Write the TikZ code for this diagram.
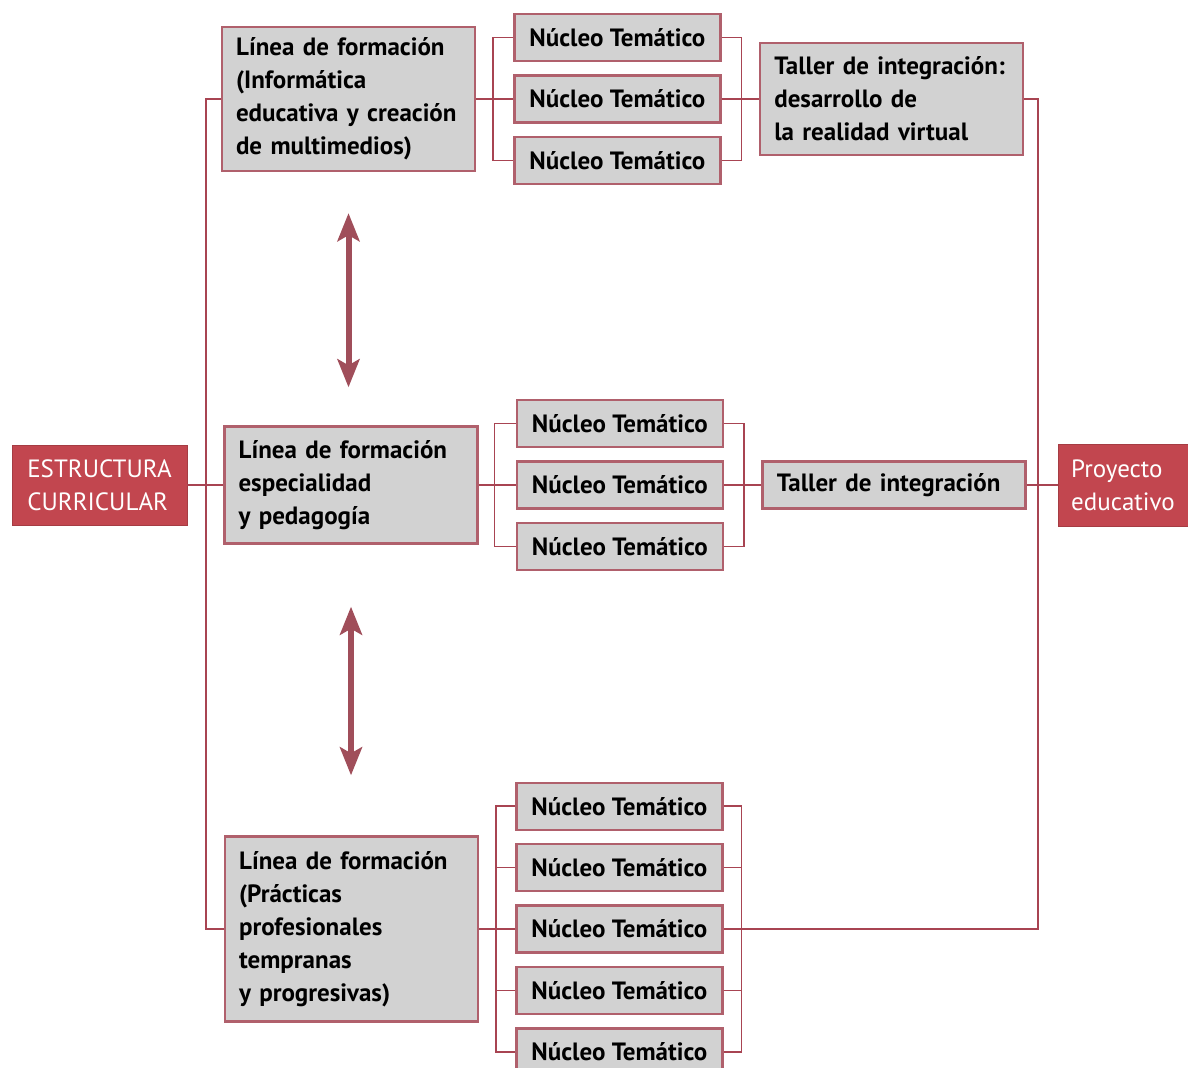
\documentclass[tikz,border=0pt]{standalone}
\usepackage{fontspec}
\setmainfont{PT Sans}
\usetikzlibrary{%
  positioning,
  calc,
  arrows.meta,
}

\definecolor{tituloRed}{HTML}{C2464F}
\definecolor{lineaRed}{HTML}{A84452}
\definecolor{bordeRed}{HTML}{B0606C}
\definecolor{flechaRed}{HTML}{A04E5A}
\definecolor{cajaGray}{HTML}{D2D2D2}

\begin{document}
\begin{tikzpicture}[%
           x=0.5pt, y=-0.5pt,
           node distance=6pt and 18.5pt,
           font=\fontsize{12.5}{16.5}\selectfont\bfseries,
           caja/.style={
             % The shape:
             rectangle,
             % The border:
             draw=bordeRed,
             line width=1.2pt,
             % The filling:
             fill=cajaGray,
             inner xsep=7pt,
             align=left,
           },
           linea/.style={
             caja,
             text width=112.5pt,
             minimum width=126.5pt,
           },
           nucleo/.style={
             caja,
             minimum width=103pt,
             minimum height=23.5pt,
             align=center,
           },
           taller/.style={
             caja,
             text width=117pt,
             minimum width=131.5pt,
           },
           extremo/.style={
             rectangle,
             fill=tituloRed,
             draw=tituloRed!85!black,
             text=white,
             font=\fontsize{12.5}{16.5}\selectfont,
             align=left,
           },
           link/.style={
             line width=0.75pt,
             color=lineaRed,
           },
           vaiven/.style={
             {Stealth[width=11pt,length=14pt,inset=3pt]}-{Stealth[width=11pt,length=14pt,inset=3pt]},
             line width=3pt,
             color=flechaRed,
           }]
         \useasboundingbox (0,0) rectangle (1188,1068);

         % extremos
         \node[extremo, minimum width=87.5pt, minimum height=40pt] (estructura) at (99.5,485) {ESTRUCTURA\\CURRICULAR};
         \node[extremo, minimum width=65pt, minimum height=41pt] (proyecto) at (1123,485) {Proyecto\\educativo};

         % lineas de formacion
         \node[linea, minimum height=72pt] (linea1) at (348.5,99) {L\'inea de formaci\'on\\(Inform\'atica\\educativa y creaci\'on\\de multimedios)};
         \node[linea, minimum height=58.5pt] (linea2) at (351,485) {L\'inea de formaci\'on\\especialidad\\y pedagog\'ia};
         \node[linea, minimum height=92.5pt] (linea3) at (351.5,929) {L\'inea de formaci\'on\\(Pr\'acticas\\profesionales\\tempranas\\y progresivas)};

         % nucleos
         \node[nucleo] (nucleo12) [right=of linea1] {N\'ucleo Tem\'atico};
         \node[nucleo] (nucleo11) [above=of nucleo12] {N\'ucleo Tem\'atico};
         \node[nucleo] (nucleo13) [below=of nucleo12] {N\'ucleo Tem\'atico};

         \node[nucleo] (nucleo22) [right=of linea2] {N\'ucleo Tem\'atico};
         \node[nucleo] (nucleo21) [above=of nucleo22] {N\'ucleo Tem\'atico};
         \node[nucleo] (nucleo23) [below=of nucleo22] {N\'ucleo Tem\'atico};

         \node[nucleo] (nucleo33) [right=18pt of linea3] {N\'ucleo Tem\'atico};
         \node[nucleo] (nucleo32) [above=of nucleo33] {N\'ucleo Tem\'atico};
         \node[nucleo] (nucleo31) [above=of nucleo32] {N\'ucleo Tem\'atico};
         \node[nucleo] (nucleo34) [below=of nucleo33] {N\'ucleo Tem\'atico};
         \node[nucleo] (nucleo35) [below=of nucleo34] {N\'ucleo Tem\'atico};

         % talleres
         \node[taller, minimum height=56pt] (taller1) [right=of nucleo12] {Taller de integraci\'on:\\desarrollo de\\la realidad virtual};
         \node[taller, minimum height=23.5pt] (taller2) [right=of nucleo22] {Taller de integraci\'on};

         \coordinate (ejeIzq) at (206,485);
         \coordinate (ejeDer) at (1038,485);

         % eje izquierdo
         \draw[link] (estructura.east) -- (linea2.west);
         \draw[link] (linea1.west) -| (ejeIzq) |- (linea3.west);

         % grupo 1
         \draw[link] (linea1.east) -- (nucleo12.west);
         \draw[link] (nucleo11.west) -- ++(-20,0) |- (nucleo13.west);
         \draw[link] (nucleo11.east) -- ++(20,0) |- (nucleo13.east);
         \draw[link] (nucleo12.east) -- (taller1.west);

         % grupo 2
         \draw[link] (linea2.east) -- (nucleo22.west);
         \draw[link] (nucleo21.west) -- ++(-21,0) |- (nucleo23.west);
         \draw[link] (nucleo21.east) -- ++(20,0) |- (nucleo23.east);
         \draw[link] (nucleo22.east) -- (taller2.west);

         % grupo 3
         \draw[link] (linea3.east) -- (nucleo33.west);
         \draw[link] (nucleo31.west) -- ++(-19,0) |- (nucleo35.west);
         \draw[link] (nucleo32.west) -- ++(-19,0);
         \draw[link] (nucleo34.west) -- ++(-19,0);
         \draw[link] (nucleo31.east) -- ++(18,0) |- (nucleo35.east);
         \draw[link] (nucleo32.east) -- ++(18,0);
         \draw[link] (nucleo34.east) -- ++(18,0);

         % eje derecho
         \draw[link] (taller1.east) -| (ejeDer) |- (nucleo33.east);
         \draw[link] (taller2.east) -- (proyecto.west);

         \draw[vaiven, shorten <=20.5pt, shorten >=19pt] (linea1.south) -- (linea1.south |- linea2.north);
         \draw[vaiven, shorten <=31pt, shorten >=30pt] (linea2.south) -- (linea2.south |- linea3.north);
       \end{tikzpicture}
\end{document}
